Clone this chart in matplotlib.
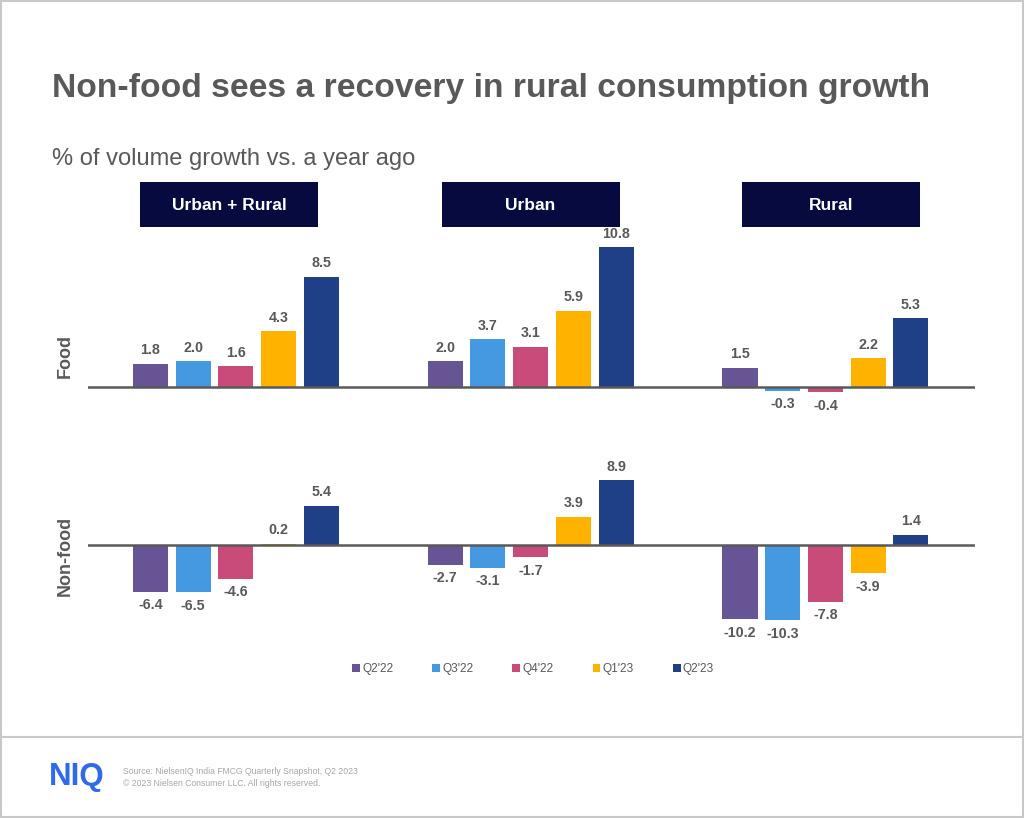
import matplotlib
matplotlib.use("Agg")
import matplotlib.pyplot as plt
from matplotlib.patches import Rectangle
import numpy as np

plt.rcParams['font.family'] = ['Liberation Sans', 'DejaVu Sans']

# ---- data ----
regions = ["Urban + Rural", "Urban", "Rural"]
quarters = ["Q2'22", "Q3'22", "Q4'22", "Q1'23", "Q2'23"]
food_urban_rural = [1.8, 2.0, 1.6, 4.3, 8.5]
food_urban = [2.0, 3.7, 3.1, 5.9, 10.8]
food_rural = [1.5, -0.3, -0.4, 2.2, 5.3]
nonfood_urban_rural = [-6.4, -6.5, -4.6, 0.2, 5.4]
nonfood_urban = [-2.7, -3.1, -1.7, 3.9, 8.9]
nonfood_rural = [-10.2, -10.3, -7.8, -3.9, 1.4]
colors = ["#665495", "#4499e0", "#c84b79", "#ffb300", "#1f3f87"]

food = [food_urban_rural, food_urban, food_rural]
nonfood = [nonfood_urban_rural, nonfood_urban, nonfood_rural]

W, H = 1024, 818
fig = plt.figure(figsize=(W / 100, H / 100), dpi=100)
fig.patch.set_facecolor("white")

TXT = "#595959"


def fx(px):
    return px / W


def fy(py):
    return 1 - py / H


# frame and separator
fig.add_artist(Rectangle((0.001, 0.001), 0.998, 0.998, transform=fig.transFigure,
                         fill=False, edgecolor="#c8c8c8", lw=1.5))
fig.add_artist(plt.Line2D([0, 1], [fy(737), fy(737)], transform=fig.transFigure,
                          color="#c8c8c8", lw=1.5))

# title / subtitle
fig.text(fx(52), fy(89), "Non-food sees a recovery in rural consumption growth",
         fontsize=24.2, fontweight="bold", color=TXT, va="center", ha="left")
fig.text(fx(52), fy(159), "% of volume growth vs. a year ago",
         fontsize=17, color=TXT, va="center", ha="left")

# header boxes
box_centers = [229, 530.5, 831]
for cx, name in zip(box_centers, regions):
    fig.add_artist(Rectangle((fx(cx - 89), fy(227)), 178 / W, 45 / H,
                             transform=fig.transFigure, facecolor="#060a3f",
                             edgecolor="none"))
    fig.text(fx(cx), fy(205), name, color="white", fontsize=12.5,
             fontweight="bold", ha="center", va="center")

GROUP_GAP = 6.9
BAR_W = 0.82
x_left, x_right = -3.46, 2 * GROUP_GAP + 3.5


def make_axes(top_px, bot_px, base_px, px_per_unit):
    ax = fig.add_axes([fx(88), fy(bot_px), (975 - 88) / W, (bot_px - top_px) / H])
    ax.set_xlim(x_left, x_right)
    ax.set_ylim(-(bot_px - base_px) / px_per_unit, (base_px - top_px) / px_per_unit)
    ax.axis("off")
    ax.axhline(0, color="#595959", lw=1.8, zorder=3)
    return ax


ax_food = make_axes(230, 425, 387, 12.96)
ax_non = make_axes(465, 635, 545, 7.3)

handles = []
for ax, data in ((ax_food, food), (ax_non, nonfood)):
    for gi, vals in enumerate(data):
        xs = gi * GROUP_GAP + (np.arange(len(quarters)) - 2)
        bars = ax.bar(xs, vals, width=BAR_W, color=colors, zorder=2)
        for x, v in zip(xs, vals):
            off = 13.5 if v >= 0 else -13.5
            ax.annotate(f"{v:.1f}", (x, v), xytext=(0, off * 0.72),
                        textcoords="offset points", ha="center", va="center",
                        fontsize=10.3, fontweight="bold", color=TXT)
        if ax is ax_food and gi == 0:
            handles = list(bars.patches)

fig.text(fx(65), fy(356), "Food", rotation=90, fontsize=13, fontweight="bold",
         color=TXT, ha="center", va="center")
fig.text(fx(65), fy(556), "Non-food", rotation=90, fontsize=13, fontweight="bold",
         color=TXT, ha="center", va="center")

leg = fig.legend(handles, quarters, loc="center", bbox_to_anchor=(fx(533), fy(669)),
                 ncol=5, frameon=False, fontsize=8.6, handlelength=0.65,
                 handleheight=0.65, handletextpad=0.2, columnspacing=3.25)
for t in leg.get_texts():
    t.set_color(TXT)

# footer
fig.text(fx(49), fy(777), "NIQ", fontsize=22.5, fontweight="bold", color="#2f6ae8",
         ha="left", va="center")
fig.text(fx(123), fy(771), "Source: NielsenIQ India FMCG Quarterly Snapshot, Q2 2023",
         fontsize=6.2, color="#a6a6a6", ha="left", va="center")
fig.text(fx(123), fy(783), "\u00a9 2023 Nielsen Consumer LLC. All rights reserved.",
         fontsize=6.2, color="#a6a6a6", ha="left", va="center")

fig.savefig("out.png", dpi=100, facecolor="white")
